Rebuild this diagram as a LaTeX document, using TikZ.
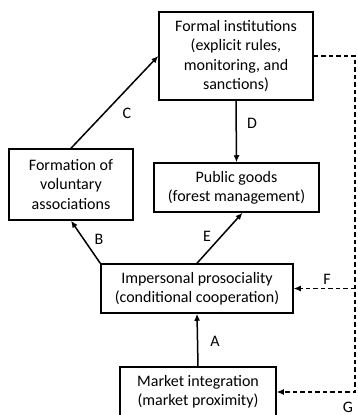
\documentclass[tikz,border=0pt]{standalone}
\usepackage{fontspec}
\setmainfont{Carlito}
\usetikzlibrary{arrows.meta}
\begin{document}
\begin{tikzpicture}[x=1pt,y=-1pt,
  box/.style={draw,line width=1.5pt,inner sep=0pt,align=center,font=\fontsize{16}{19.3}\selectfont},
  arr/.style={line width=1.5pt,-{Latex[length=7pt,width=6pt]}},
  darr/.style={line width=1.2pt,dash pattern=on 4.5pt off 3pt,-{Latex[length=7pt,width=6pt]}},
  lbl/.style={font=\fontsize{16}{18}\selectfont,inner sep=0pt}]
\useasboundingbox (0,0) rectangle (358,415);
\clip (0,0) rectangle (358,415);
\node[box,minimum width=154pt,minimum height=88pt] (formal) at (236,56) {Formal institutions\\(explicit rules,\\monitoring, and\\sanctions)};
\node[box,minimum width=124pt,minimum height=71pt] (assoc) at (71,184.5) {Formation of\\voluntary\\associations};
\node[box,minimum width=165pt,minimum height=49pt] (public) at (236.5,187.5) {Public goods\\(forest management)};
\node[box,minimum width=192pt,minimum height=49pt] (imp) at (197,288.5) {Impersonal prosociality\\(conditional cooperation)};
\node[box,minimum width=156pt,minimum height=50pt] (market) at (198,392) {Market integration\\(market proximity)};
\coordinate (rc) at (355,392);
\draw[arr] (assoc.north) -- (formal.west);
\draw[arr] (formal.south) -- (public.north);
\draw[arr] (imp.north west) -- (assoc.south);
\draw[arr] (imp.north) -- ([xshift=6pt]public.south);
\draw[arr] (market.north) -- (imp.south);
\draw[darr] (formal.east) -| (rc) -- (market.east);
\draw[darr] (imp.east -| rc) -- (imp.east);
\node[lbl] (lc) at (127,113) {C};
\node[lbl] (ld) at (252,123) {D};
\node[lbl] (lb) at (99,239) {B};
\node[lbl] (le) at (207,236) {E};
\node[lbl] (lf) at (327,279) {F};
\node[lbl] (la) at (215,341) {A};
\node[lbl] (lg) at (348,407) {G};
\end{tikzpicture}
\end{document}
